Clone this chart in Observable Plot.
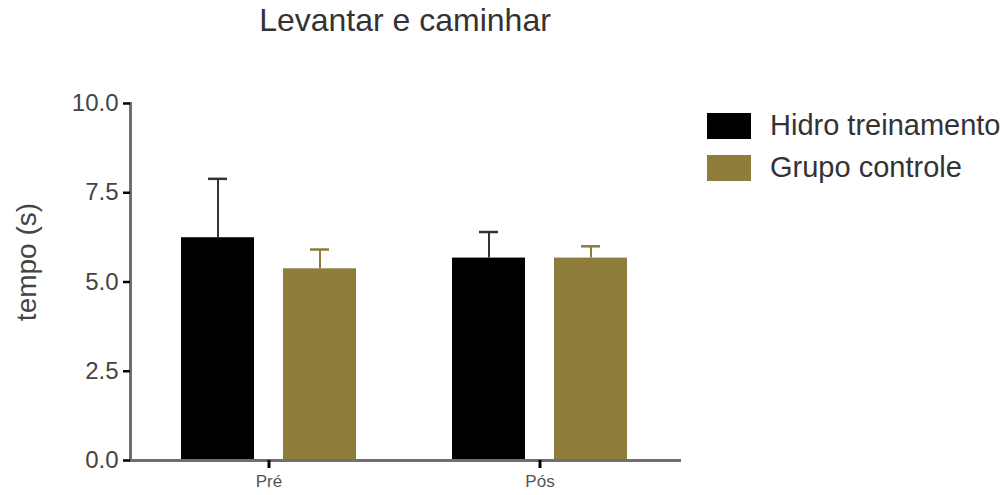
<!DOCTYPE html>
<html>
<head>
<meta charset="utf-8">
<script src="https://cdn.jsdelivr.net/npm/d3@7"></script>
<script src="https://cdn.jsdelivr.net/npm/@observablehq/plot@0.6"></script>
<style>
  body { margin: 0; background: #fff; font-family: "Liberation Sans", Arial, sans-serif; }
  #chart { position: relative; width: 1005px; height: 495px; overflow: hidden; }
  #chart svg { position: absolute; left: 0; top: 0; }
  .title { position: absolute; left: 0; top: 4px; width: 810px; text-align: center;
           font-size: 32px; line-height: 32px; color: #333; }
  .ylabel { position: absolute; left: 27px; top: 262px; white-space: nowrap;
            transform: translate(-50%, -50%) rotate(-90deg); font-size: 28px; color: #444; }
  .legend { position: absolute; left: 707px; top: 113px; }
  .legend .item { display: flex; align-items: flex-start; height: 42px; }
  .legend .swatch { width: 44px; height: 26px; margin-right: 19px; }
  .legend .text { font-size: 29px; line-height: 29px; margin-top: -2px; color: #333; white-space: nowrap; }
</style>
</head>
<body>
<div id="chart">
  <div class="title">Levantar e caminhar</div>
  <div class="ylabel">tempo (s)</div>
  <div class="legend" id="legend"></div>
</div>
<script>
// Groups on the x axis and the two series compared in each group
const groups = ["Pré", "Pós"];
const series = ["Hidro treinamento", "Grupo controle"];
const colors = ["#000000", "#8d7c3b"];

// Mean time (s) and standard deviation per group
const hidroMean = [6.24, 5.67];
const hidroSD = [1.65, 0.73];
const controleMean = [5.37, 5.67];
const controleSD = [0.54, 0.33];

const yTicks = [0, 2.5, 5, 7.5, 10];

const hidro = groups.map((g, i) => ({group: g, series: series[0], mean: hidroMean[i], sd: hidroSD[i]}));
const controle = groups.map((g, i) => ({group: g, series: series[1], mean: controleMean[i], sd: controleSD[i]}));

// Each group band holds two bars: the first series on the left, the second on the right
const barInset = 102;
const barShift = 51;

const plot = Plot.plot({
  width: 1005,
  height: 495,
  marginLeft: 130,
  marginRight: 326,
  marginTop: 103,
  marginBottom: 35,
  style: {fontFamily: '"Liberation Sans", Arial, sans-serif', background: "transparent"},
  x: {type: "band", domain: groups, paddingInner: 0.353, paddingOuter: 0.188, label: null},
  y: {domain: [0, 10], label: null},
  marks: [
    Plot.barY(hidro, {x: "group", y: "mean", fill: colors[0], insetRight: barInset}),
    Plot.barY(controle, {x: "group", y: "mean", fill: colors[1], insetLeft: barInset}),
    // upper error bars (mean + SD)
    Plot.ruleX(hidro, {x: "group", y1: "mean", y2: d => d.mean + d.sd, dx: -barShift, stroke: "#333", strokeWidth: 2}),
    Plot.tickY(hidro, {x: "group", y: d => d.mean + d.sd, insetLeft: 27, insetRight: 129, stroke: "#333", strokeWidth: 2.5}),
    Plot.ruleX(controle, {x: "group", y1: "mean", y2: d => d.mean + d.sd, dx: barShift, stroke: colors[1], strokeWidth: 2}),
    Plot.tickY(controle, {x: "group", y: d => d.mean + d.sd, insetLeft: 129, insetRight: 27, stroke: colors[1], strokeWidth: 2.5}),
    // axis lines
    Plot.frame({anchor: "left", stroke: "#6f6f6f", strokeWidth: 3}),
    Plot.frame({anchor: "bottom", stroke: "#6f6f6f", strokeWidth: 3}),
    Plot.axisY({ticks: yTicks, tickFormat: d3.format(".1f"), tickSize: 7, tickPadding: 5,
                fontSize: 24, color: "#444", stroke: "#000", strokeWidth: 2.5, label: null}),
    Plot.axisX({tickSize: 8, tickPadding: 6, fontSize: 17, color: "#555", stroke: "#000", strokeWidth: 3, label: null})
  ]
});
document.getElementById("chart").prepend(plot);

// Legend
const legend = document.getElementById("legend");
series.forEach((s, i) => {
  const item = document.createElement("div");
  item.className = "item";
  const sw = document.createElement("div");
  sw.className = "swatch";
  sw.style.background = colors[i];
  const tx = document.createElement("div");
  tx.className = "text";
  tx.textContent = s;
  item.append(sw, tx);
  legend.append(item);
});
</script>
</body>
</html>
